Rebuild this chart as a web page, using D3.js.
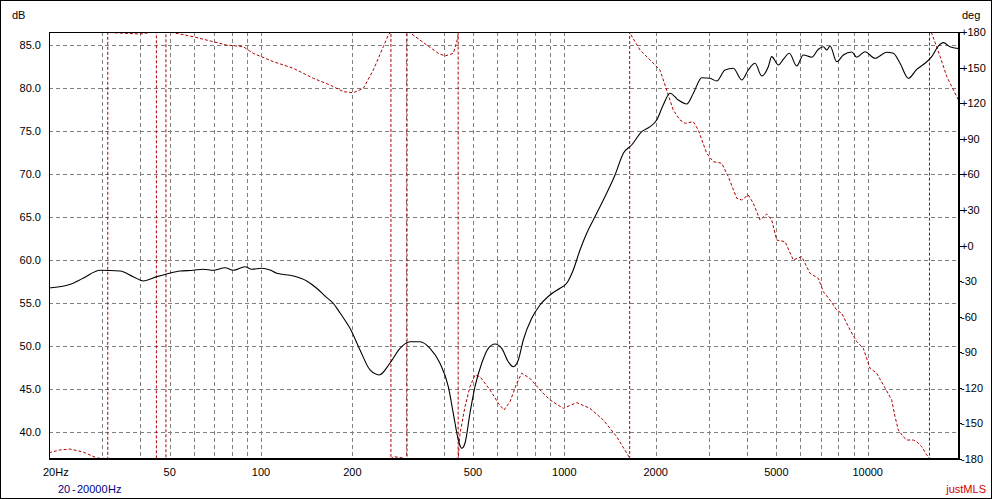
<!DOCTYPE html>
<html><head><meta charset="utf-8">
<script src="https://cdn.jsdelivr.net/npm/d3@7"></script>
<style>
html,body{margin:0;padding:0;background:#fff;}
svg{display:block;font-family:"Liberation Sans",Arial,sans-serif;}
</style></head><body>
<script>
// ---- data ----
const freqSPL=[20,23.5,25.9,29.5,34.3,37.9,40.9,45.3,48.9,54.1,
59.8,64.5,69.6,76.1,81.0,88.6,93.2,100.5,107,112.7,
127.8,141.4,152.6,164.7,173.1,182.2,196.5,212,228.8,245.4,
266.2,287.2,309.8,334.4,360.7,389,414.4,430.4,447.2,458.8,
470.4,488.6,507.4,534,561.4,590.6,621.6,653.4,678.8,705,
732.2,780.4,831.2,897,967.4,1018,1070,1126,1185,1246,
1344,1469,1565,1667,1799,1916,2016,2118,2230,2374,
2532,2662,2838,3022,3178,3386,3606,3844,4040,4252,
4474,4702,4826,5074,5272,5518,5834,6134,6538,6876,
7142,7328,7514,7906,8312,8862,9204,9798,10572,11558,
12152,12784,13616,14510,15454,16260,17096,17758,18684,19850];
const spl=[56.72,57.15,57.85,58.78,58.70,58.04,57.54,58.04,58.35,58.70,
58.78,58.90,58.78,59.08,58.78,59.20,58.90,59.01,58.82,58.43,
58.12,57.54,56.69,55.59,54.94,53.81,52.03,49.51,47.18,46.60,
47.99,49.70,50.47,50.47,49.70,47.96,45.23,42.14,39.03,38.07,
38.68,42.17,45.23,47.96,49.70,50.20,49.70,48.14,47.56,48.34,
50.67,53.19,54.74,55.91,56.69,57.27,58.82,61.14,63.09,64.63,
66.96,69.87,72.40,73.36,74.91,75.49,76.27,78.02,79.38,78.60,
78.13,79.38,81.19,81.12,80.81,82.09,82.29,80.93,82.09,82.87,
81.39,82.47,83.64,82.67,83.34,84.03,82.56,83.84,83.57,84.50,
84.80,84.42,84.88,83.06,83.84,84.19,83.57,84.22,83.45,84.15,
84.03,82.87,81.12,82.17,82.87,83.64,84.88,85.27,84.80,84.59];

const freqPhase=[20,21.7,23.5,25.9,28.8,30.8,31.8,32.5,39.9,43.6,
44.4,46.4,47.5,49.7,51.4,59.8,69.6,77.1,87.4,94.3,
109.8,127.8,148.7,168.8,186.7,201.5,217.4,234.6,253,262.8,
272.4,282.8,298.4,309.8,351.8,384.2,404.2,430.4,445,453,
470.4,488.6,507.4,527.2,568.8,605.8,632.4,662,696.6,723.4,
770.4,831.2,897,992.2,1098,1215,1344,1488,1637,1646,
1776,1916,2066,2174,2286,2406,2500,2662,2764,2946,
3098,3302,3472,3700,3844,4040,4196,4416,4646,4826,
5012,5340,5686,6062,6454,6876,7142,7514,7906,8212,
8746,9204,9672,10178,10710,11558,12002,12306,12620,13106,
13450,14140,14510,15076,15652,15844,15990,16260,17334,18238,
19172,19912];
const phase=[-174.7,-172.4,-171.6,-174.1,-179.2,-179.6,179.5,179.4,178.3,179.7,
179.8,-179.7,-179.7,179.7,179.4,176.0,171.8,169.0,167.6,162.0,
155.0,149.4,141.0,135.3,129.7,128.8,132.5,148.0,167.6,177.5,
-178.0,-178.5,-179.6,179.4,169.0,162.0,159.8,162.0,174.7,-158.3,
-135.9,-119.0,-109.2,-110.6,-121.8,-133.0,-138.7,-131.7,-116.2,-107.7,
-112.0,-121.8,-130.3,-137.3,-132.5,-137.3,-147.1,-161.2,-178.6,178.9,
164.8,156.4,148.0,131.1,114.2,105.8,103.0,104.4,97.4,77.7,
70.7,69.3,58.0,39.8,38.4,42.6,35.6,21.5,26.6,21.5,
4.6,3.2,-12.2,-9.4,-23.4,-27.7,-39.0,-46.0,-54.4,-57.2,
-71.2,-81.1,-86.7,-103.5,-107.7,-122.7,-130.3,-144.3,-155.6,-161.2,
-164.0,-164.0,-165.4,-169.6,-176.6,-178.1,179.9,178.9,159.2,142.3,
131.1,122.7];

const xTickValues=[20,50,100,200,500,1000,2000,5000,10000];
const xTickLabels=["20Hz","50","100","200","500","1000","2000","5000","10000"];
const dbTicks=[40,45,50,55,60,65,70,75,80,85];
const degTicks=[180,150,120,90,60,30,0,-30,-60,-90,-120,-150,-180];
const rangeStart="20", rangeEnd="20000", rangeUnit="Hz";

// ---- layout ----
const W=992,H=499,L=49,R=959,T=32,B=459;
const FONT=11;
const svg=d3.select("body").append("svg").attr("width",W).attr("height",H);
svg.append("rect").attr("x",0.5).attr("y",0.5).attr("width",W-1).attr("height",H-1)
  .attr("fill","#fff").attr("stroke","#000");

const x=d3.scaleLog().domain([20,20000]).range([L,R]);
const y=d3.scaleLinear().domain([36.82,86.51]).range([B,T]);
const yp=d3.scaleLinear().domain([-180,180]).range([B,T]);

// grid
const grid=svg.append("g").attr("stroke","#808080").attr("stroke-width",1).attr("stroke-dasharray","4,3").attr("shape-rendering","crispEdges");
const gridF=x.ticks().filter(f=>f>20&&f<20000);
grid.selectAll("line.v").data(gridF).join("line")
  .attr("x1",d=>Math.round(x(d))+0.5).attr("x2",d=>Math.round(x(d))+0.5)
  .attr("y1",T).attr("y2",B);
grid.selectAll("line.h").data(dbTicks).join("line")
  .attr("y1",d=>Math.round(y(d))+0.5).attr("y2",d=>Math.round(y(d))+0.5)
  .attr("x1",L).attr("x2",R);

// clip
svg.append("clipPath").attr("id","clip").append("rect").attr("x",L).attr("y",T).attr("width",R-L).attr("height",B-T);

// phase path with wrap verticals
const pts=[];
for(let i=0;i<freqPhase.length;i++){
  const px=x(freqPhase[i]), p=phase[i];
  if(i>0){
    const p0=phase[i-1], px0=x(freqPhase[i-1]);
    const d=p-p0;
    if(d>180){const pu=p-360;const t=(p0+180)/(p0-pu);const xc=px0+t*(px-px0);pts.push([xc,yp(-180)],[xc,yp(180)]);}
    else if(d<-180){const pu=p+360;const t=(180-p0)/(pu-p0);const xc=px0+t*(px-px0);pts.push([xc,yp(180)],[xc,yp(-180)]);}
  }
  pts.push([px,yp(p)]);
}
svg.append("path").attr("clip-path","url(#clip)")
  .attr("d",d3.line()(pts)).attr("fill","none")
  .attr("stroke","#b00000").attr("stroke-width",1).attr("stroke-dasharray","3,2");

// SPL curve
const splData=freqSPL.map((f,i)=>({f,v:spl[i]}));
svg.append("path").attr("clip-path","url(#clip)")
  .attr("d",d3.line().x(d=>x(d.f)).y(d=>y(d.v)).curve(d3.curveMonotoneX)(splData))
  .attr("fill","none").attr("stroke","#000").attr("stroke-width",1.1);

// frame
const fr=svg.append("g").attr("shape-rendering","crispEdges");
fr.append("line").attr("x1",L).attr("x2",R+1).attr("y1",T+0.5).attr("y2",T+0.5).attr("stroke","#000");
fr.append("line").attr("x1",L+0.5).attr("x2",L+0.5).attr("y1",T).attr("y2",B+1).attr("stroke","#000");
fr.append("rect").attr("x",R-1).attr("y",T).attr("width",2).attr("height",B-T+1).attr("fill","#000");
fr.append("rect").attr("x",L).attr("y",B-1).attr("width",R-L+1).attr("height",2).attr("fill","#000");

// deg ticks
fr.selectAll("line.dt").data(degTicks).join("line")
  .attr("x1",R+1).attr("x2",R+3).attr("y1",d=>Math.round(yp(d))+0.5).attr("y2",d=>Math.round(yp(d))+0.5)
  .attr("stroke","#000");

// texts
const txt=svg.append("g").attr("font-size",FONT).attr("fill","#000");
txt.selectAll("text.db").data(dbTicks).join("text")
  .attr("x",41).attr("y",d=>y(d)).attr("text-anchor","end").attr("dominant-baseline","central")
  .text(d=>d.toFixed(1));
txt.selectAll("text.deg").data(degTicks).join("text")
  .attr("x",961).attr("y",d=>yp(d)).attr("text-anchor","start").attr("dominant-baseline","central")
  .text(d=>(d>=0?"+":"")+d);
txt.selectAll("text.xt").data(xTickValues).join("text")
  .attr("x",(d,i)=>i===0?x(d)-6:x(d)).attr("y",472)
  .attr("text-anchor",(d,i)=>i===0?"start":"middle").attr("dominant-baseline","central")
  .text((d,i)=>xTickLabels[i]);
txt.append("text").attr("x",12).attr("y",15).attr("dominant-baseline","central").text("dB");
txt.append("text").attr("x",962).attr("y",15).attr("dominant-baseline","central").text("deg");

const st=svg.append("g").attr("font-size",FONT).attr("fill","#000080");
st.append("text").attr("x",58).attr("y",489).attr("dominant-baseline","central").text(rangeStart);
st.append("text").attr("x",72).attr("y",489).attr("dominant-baseline","central").text("-");
st.append("text").attr("x",77).attr("y",489).attr("dominant-baseline","central").text(rangeEnd);
st.append("text").attr("x",108).attr("y",489).attr("dominant-baseline","central").text(rangeUnit);
svg.append("text").attr("x",986).attr("y",489).attr("text-anchor","end").attr("dominant-baseline","central")
  .attr("font-size",FONT).attr("fill","#d00000").text("justMLS");
</script>
</body></html>
